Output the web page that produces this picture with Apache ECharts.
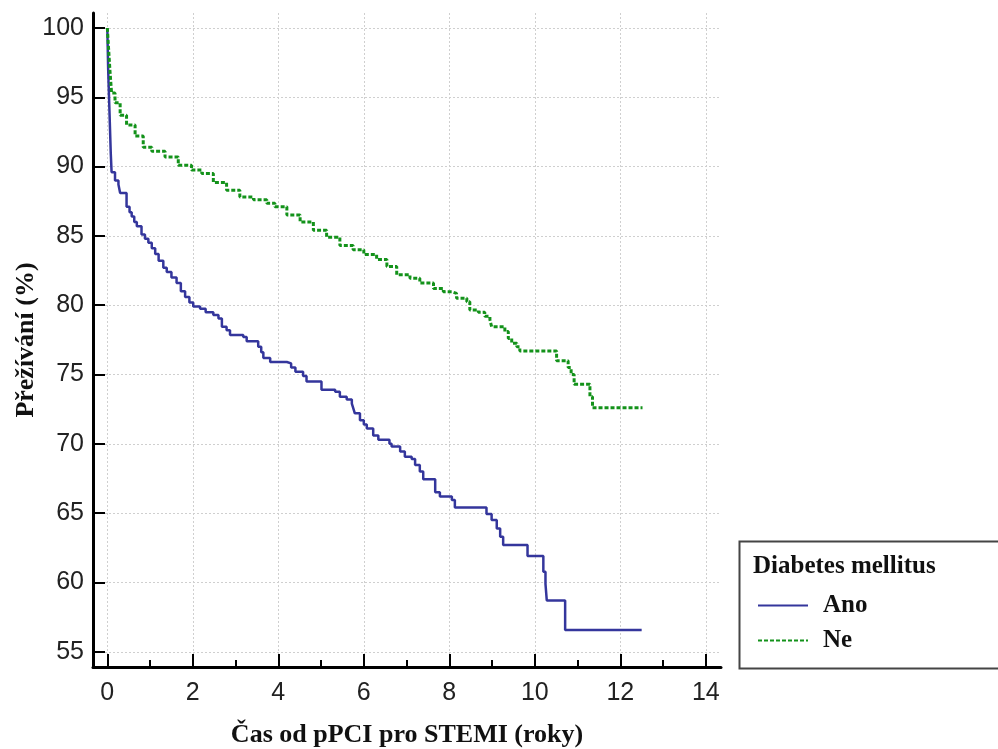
<!DOCTYPE html>
<html>
<head>
<meta charset="utf-8">
<title>Přežívání podle diabetes mellitus</title>
<script src="https://cdn.jsdelivr.net/npm/echarts@6/dist/echarts.min.js"></script>
<style>
  html, body { margin: 0; padding: 0; background: #ffffff; }
  #chart { width: 998px; height: 749px; }
</style>
</head>
<body>
<div id="chart"></div>
<script>
// Kaplan-Meier survival estimates (time in years, survival in %)
const seriesNames = ['Ano', 'Ne'];

const anoTime = [0, 0.02, 0.05, 0.08, 0.1, 0.18, 0.26, 0.3, 0.45, 0.52, 0.57, 0.63, 0.69, 0.8, 0.88, 0.96,
  1.04, 1.12, 1.2, 1.31, 1.39, 1.5, 1.62, 1.72, 1.82, 1.92, 2.01, 2.17, 2.3, 2.48, 2.6, 2.68, 2.79, 2.87,
  3.18, 3.26, 3.53, 3.6, 3.65, 3.81, 4.2, 4.3, 4.4, 4.58, 4.66, 5.01, 5.33, 5.44, 5.6, 5.72, 5.76, 5.79,
  5.91, 6.0, 6.07, 6.22, 6.34, 6.6, 6.65, 6.85, 6.96, 7.12, 7.2, 7.31, 7.39, 7.67, 7.78, 8.06, 8.13,
  8.87, 8.99, 9.11, 9.19, 9.26, 9.83, 10.2, 10.25, 10.28, 10.71, 12.5];
const anoSurv = [100, 97, 94, 91, 89.6, 89.0, 88.7, 88.1, 87.1, 86.7, 86.4, 86.0, 85.7, 85.1, 84.8, 84.5,
  84.1, 83.7, 83.2, 82.7, 82.4, 82.0, 81.6, 81.0, 80.6, 80.2, 79.9, 79.75, 79.5, 79.3, 79.05, 78.45, 78.2, 77.85,
  77.7, 77.4, 77.0, 76.6, 76.2, 75.9, 75.8, 75.5, 75.2, 74.9, 74.5, 73.9, 73.75, 73.4, 73.2, 72.9, 72.5, 72.2,
  71.7, 71.4, 71.1, 70.6, 70.3, 70.0, 69.8, 69.45, 69.07, 68.9, 68.47, 68.0, 67.44, 66.5, 66.2, 65.95, 65.4,
  64.93, 64.5, 63.9, 63.3, 62.7, 61.9, 60.77, 59.9, 58.7, 56.57, 56.57];

const neTime = [0, 0.03, 0.06, 0.1, 0.18, 0.3, 0.45, 0.65, 0.84, 1.04, 1.35, 1.66, 1.97, 2.21, 2.48, 2.79,
  3.1, 3.42, 3.73, 3.92, 4.2, 4.51, 4.82, 5.13, 5.44, 5.75, 6.0, 6.3, 6.54, 6.77, 7.08, 7.31, 7.63, 7.86,
  8.06, 8.17, 8.41, 8.48, 8.68, 8.83, 8.95, 8.99, 9.3, 9.38, 9.46, 9.58, 9.65, 10.51, 10.78, 10.85, 10.92,
  11.29, 11.35, 12.52];
const neSurv = [100, 98.5, 97, 95.3, 94.6, 93.7, 93.0, 92.2, 91.4, 91.1, 90.7, 90.1, 89.75, 89.5, 88.85, 88.3,
  87.8, 87.6, 87.35, 87.1, 86.5, 86.0, 85.4, 84.9, 84.3, 84.0, 83.65, 83.3, 82.8, 82.2, 81.95, 81.6, 81.2, 80.97,
  80.85, 80.5, 80.25, 79.65, 79.5, 79.2, 78.95, 78.45, 78.1, 77.6, 77.25, 77.0, 76.7, 76.0, 75.5, 75.0, 74.3,
  73.4, 72.6, 72.6];

// Axis tick positions
const xTicks = [0, 2, 4, 6, 8, 10, 12, 14];
const xMinorTicks = [1, 3, 5, 7, 9, 11, 13];
const yTicks = [55, 60, 65, 70, 75, 80, 85, 90, 95, 100];

const legendTitle = 'Diabetes mellitus';
const xName = 'Čas od pPCI pro STEMI (roky)';
const yName = 'Přežívání (%)';

const pairs = (t, s) => t.map((v, i) => [v, s[i]]);

const serif = '"Liberation Serif", "Times New Roman", serif';
const sans = '"Liberation Sans", Arial, sans-serif';
const gridLine = { show: true, lineStyle: { color: '#cfcfcf', width: 1, type: [2, 2] } };

const chart = echarts.init(document.getElementById('chart'), null, { renderer: 'canvas' });
chart.setOption({
  animation: false,
  backgroundColor: '#ffffff',
  grid: { left: 93, right: 277, top: 13, bottom: 82, containLabel: false, outerBoundsMode: 'none' },
  xAxis: [{
    type: 'value',
    min: -0.335,
    max: 14.356,
    name: xName,
    nameLocation: 'middle',
    nameGap: 55,
    nameMoveOverlap: false,
    nameTextStyle: { fontFamily: serif, fontWeight: 'bold', fontSize: 26, color: '#111' },
    axisLine: { show: true, onZero: false, lineStyle: { color: '#000', width: 3 } },
    axisTick: { show: true, inside: true, length: 13, customValues: xTicks, lineStyle: { color: '#000', width: 2 } },
    axisLabel: { show: true, customValues: xTicks, margin: 14, fontFamily: sans, fontSize: 25, color: '#222' },
    splitLine: gridLine
  }, {
    type: 'value',
    min: -0.335,
    max: 14.356,
    position: 'bottom',
    axisLine: { show: false },
    axisTick: { show: true, inside: true, length: 7, customValues: xMinorTicks, lineStyle: { color: '#000', width: 2 } },
    axisLabel: { show: false },
    splitLine: { show: false }
  }],
  yAxis: [{
    type: 'value',
    min: 53.9,
    max: 101.08,
    name: yName,
    nameLocation: 'middle',
    nameGap: 54,
    nameMoveOverlap: false,
    nameRotate: 90,
    nameTextStyle: { fontFamily: serif, fontWeight: 'bold', fontSize: 26, color: '#111' },
    axisLine: { show: true, onZero: false, lineStyle: { color: '#000', width: 3 } },
    axisTick: { show: true, inside: true, length: 12, customValues: yTicks, lineStyle: { color: '#000', width: 2 } },
    axisLabel: { show: true, customValues: yTicks, margin: 9, fontFamily: sans, fontSize: 25, color: '#222' },
    splitLine: gridLine
  }],
  legend: {
    show: true,
    orient: 'vertical',
    left: 752,
    top: 586,
    itemWidth: 50,
    itemHeight: 14,
    itemGap: 6,
    data: seriesNames,
    itemStyle: { opacity: 0 },
    textStyle: { fontFamily: serif, fontWeight: 'bold', fontSize: 25, color: '#111', padding: [0, 0, 0, 10], lineHeight: 29 }
  },
  graphic: [{
    type: 'rect',
    left: 737,
    top: 539,
    shape: { width: 280, height: 127 },
    style: { fill: 'none', stroke: '#454545', lineWidth: 2 },
    silent: true
  }, {
    type: 'text',
    left: 753,
    top: 554,
    style: { text: legendTitle, font: 'bold 25px ' + serif, fill: '#111' },
    silent: true
  }],
  series: [{
    name: seriesNames[0],
    type: 'line',
    step: 'end',
    showSymbol: false,
    symbol: 'none',
    data: pairs(anoTime, anoSurv),
    lineStyle: { color: '#34369c', width: 2.5 },
    itemStyle: { color: '#34369c' },
    z: 3
  }, {
    name: seriesNames[1],
    type: 'line',
    step: 'end',
    showSymbol: false,
    symbol: 'none',
    data: pairs(neTime, neSurv),
    lineStyle: { color: '#13921a', width: 3, type: [4, 2] },
    itemStyle: { color: '#13921a' },
    z: 3
  }]
});
</script>
</body>
</html>
